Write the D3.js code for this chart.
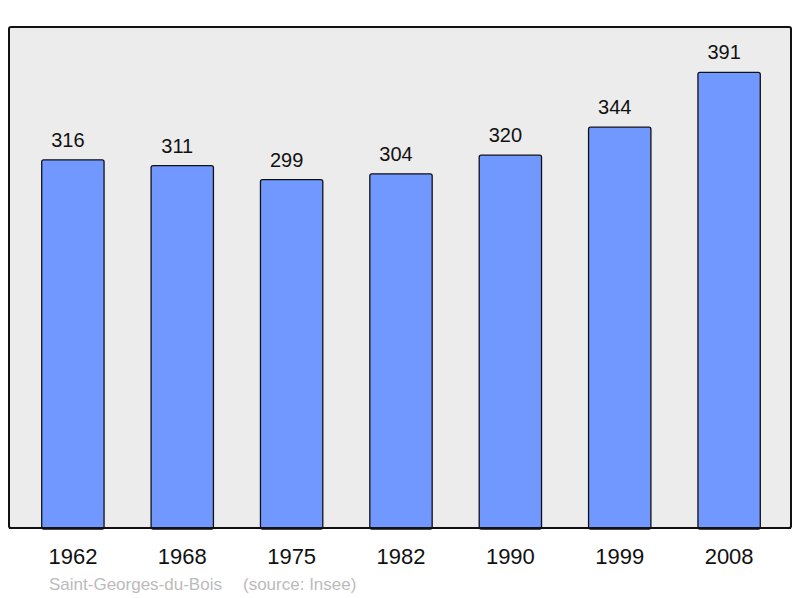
<!DOCTYPE html>
<html><head><meta charset="utf-8">
<script src="https://cdn.jsdelivr.net/npm/d3@7"></script>
<style>body{margin:0;background:#fff}svg{display:block;font-family:"Liberation Sans",Arial,sans-serif}</style>
</head><body>
<script>
const years = ["1962","1968","1975","1982","1990","1999","2008"];
const population = [316,311,299,304,320,344,391];
const townName = "Saint-Georges-du-Bois";
const sourceText = "(source: Insee)";

const W = 800, H = 598;
const svg = d3.select("body").append("svg").attr("width", W).attr("height", H);
const panel = {x0: 9, y0: 27, x1: 791, y1: 528};

svg.append("rect").attr("x", panel.x0).attr("y", panel.y0)
  .attr("width", panel.x1 - panel.x0).attr("height", panel.y1 - panel.y0)
  .attr("rx", 2).attr("fill", "#ececec").attr("stroke", "#111").attr("stroke-width", 2);

const x = d3.scaleBand().domain(years).range([panel.x0 + 1, panel.x1 + 1]).paddingInner(0.43).paddingOuter(0.29);
const y = d3.scaleLinear().domain([0, 430]).range([panel.y1, panel.y0]);

const data = years.map((yr, i) => ({yr, v: population[i]}));

svg.selectAll("rect.bar").data(data).enter().append("rect").attr("class", "bar")
  .attr("x", d => x(d.yr)).attr("y", d => y(d.v))
  .attr("width", x.bandwidth()).attr("height", d => y(0) - y(d.v) + 1)
  .attr("rx", 2).attr("fill", "#7198ff").attr("stroke", "#111").attr("stroke-width", 1.3);

svg.append("line").attr("x1", panel.x0).attr("x2", panel.x1).attr("y1", panel.y1).attr("y2", panel.y1)
  .attr("stroke", "#111").attr("stroke-width", 2);

svg.selectAll("text.val").data(data).enter().append("text").attr("class", "val")
  .attr("x", d => x(d.yr) + x.bandwidth() / 2 - 5).attr("y", d => y(d.v) - 13)
  .attr("text-anchor", "middle").attr("font-size", 20).attr("fill", "#111").text(d => d.v);

const xAxis = d3.axisBottom(x).tickSize(0).tickPadding(0);
const ax = svg.append("g").attr("transform", `translate(0,${panel.y1})`).call(xAxis);
ax.select(".domain").remove();
ax.selectAll("text").attr("font-size", 22).attr("fill", "#111").attr("dy", null).attr("y", 36)
  .attr("font-family", "Liberation Sans, Arial, sans-serif");

svg.append("text").attr("x", 49).attr("y", 590).attr("font-size", 17).attr("fill", "#bbb").text(townName);
svg.append("text").attr("x", 243).attr("y", 590).attr("font-size", 17).attr("fill", "#bbb").text(sourceText);
</script>
</body></html>
